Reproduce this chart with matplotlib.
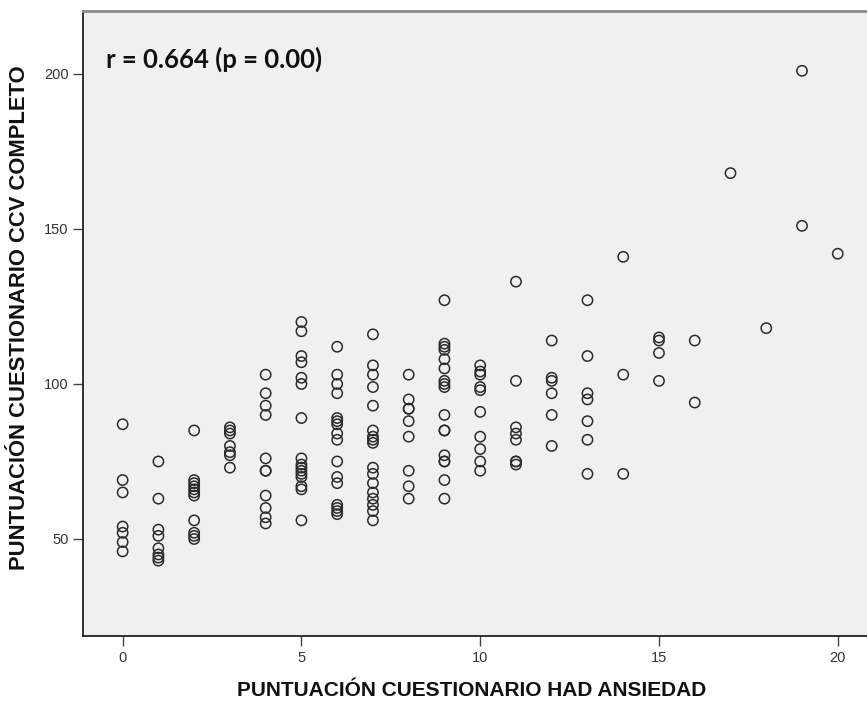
import numpy as np
import matplotlib
matplotlib.use('Agg')
import matplotlib.pyplot as plt

# -------------------------------
# DATA
# -------------------------------

had_ansiedad = [0] * 7 + [1] * 8 + [2] * 11 + [3] * 7 + [4] * 11 + [5] * 16 + \
    [6] * 16 + [7] * 17 + [8] * 9 + [9] * 17 + [10] * 10 + [11] * 8 + \
    [12] * 6 + [13] * 7 + [14] * 3 + [15] * 4 + [16] * 2 + [17] + [18] + \
    [19] * 2 + [20]

ccv_completo = [
    87, 69, 65, 54, 52, 49, 46,                                   # 0
    75, 63, 53, 51, 47, 45, 44, 43,                               # 1
    85, 69, 68, 67, 66, 65, 64, 56, 52, 51, 50,                   # 2
    86, 85, 84, 80, 78, 77, 73,                                   # 3
    103, 97, 93, 90, 76, 72, 72, 64, 60, 57, 55,                  # 4
    120, 117, 109, 107, 102, 100, 89, 76, 74, 73, 72, 71, 70, 67, 66, 56,  # 5
    112, 103, 100, 97, 89, 88, 87, 84, 82, 75, 70, 68, 61, 60, 59, 58,     # 6
    116, 106, 103, 99, 93, 85, 83, 82, 81, 73, 71, 68, 65, 63, 61, 59, 56,  # 7
    103, 95, 92, 92, 88, 83, 72, 67, 63,                          # 8
    127, 113, 112, 111, 108, 105, 101, 100, 99, 90, 85, 85, 77, 75, 75, 69, 63,  # 9
    106, 104, 103, 99, 98, 91, 83, 79, 75, 72,                    # 10
    133, 101, 86, 84, 82, 75, 75, 74,                             # 11
    114, 102, 101, 97, 90, 80,                                    # 12
    127, 109, 97, 95, 88, 82, 71,                                 # 13
    141, 103, 71,                                                 # 14
    115, 114, 110, 101,                                           # 15
    114, 94,                                                      # 16
    168,                                                          # 17
    118,                                                          # 18
    201, 151,                                                     # 19
    142,                                                          # 20
]

x_ticks = [0, 5, 10, 15, 20]
y_ticks = [50, 100, 150, 200]

annotation = 'r = 0.664 (p = 0.00)'
x_title = 'PUNTUACIÓN CUESTIONARIO HAD ANSIEDAD'
y_title = 'PUNTUACIÓN CUESTIONARIO CCV COMPLETO'

# -------------------------------
# PLOT
# -------------------------------

sans = ['Liberation Sans', 'DejaVu Sans']
W, H = 867, 702

fig = plt.figure(figsize=(W / 100, H / 100), dpi=100)
ax = fig.add_axes([0.0961, 0.094, 0.904, 0.8908])
ax.set_facecolor('#f0f0f0')

ax.scatter(had_ansiedad, ccv_completo, s=55, facecolors='none',
           edgecolors='#2b2b2b', linewidths=1.1, zorder=3)

ax.set_xlim(-1.10, 20.82)
ax.set_ylim(18.7, 220.4)

ax.set_xticks(x_ticks)
ax.set_yticks(y_ticks)
ax.tick_params(direction='out', length=7, width=1, color='#444444',
               labelsize=10.5, labelcolor='#333333')
for lab in ax.get_xticklabels() + ax.get_yticklabels():
    lab.set_family(sans)

ax.spines['right'].set_visible(False)
ax.spines['top'].set_color('#8a8a8a')
ax.spines['top'].set_linewidth(2)
ax.spines['left'].set_color('#222222')
ax.spines['bottom'].set_color('#222222')
ax.spines['left'].set_linewidth(1.3)
ax.spines['bottom'].set_linewidth(1.3)

# axis titles placed in figure pixels
fig.text(472 / W, 1 - 690 / H, x_title, family=sans, fontweight='bold',
         fontsize=15, color='#111111', ha='center', va='center')
fig.text(20 / W, 1 - 318 / H, y_title, family=sans, fontweight='bold',
         fontsize=15.8, color='#111111', ha='center', va='center', rotation=90)

ax.text(106 / W, 1 - 59 / H, annotation, transform=fig.transFigure,
        family=['Lato', 'DejaVu Sans'], fontweight='bold', fontsize=18.5,
        va='center', ha='left', color='#111111')

plt.savefig('out.png', dpi=100)
